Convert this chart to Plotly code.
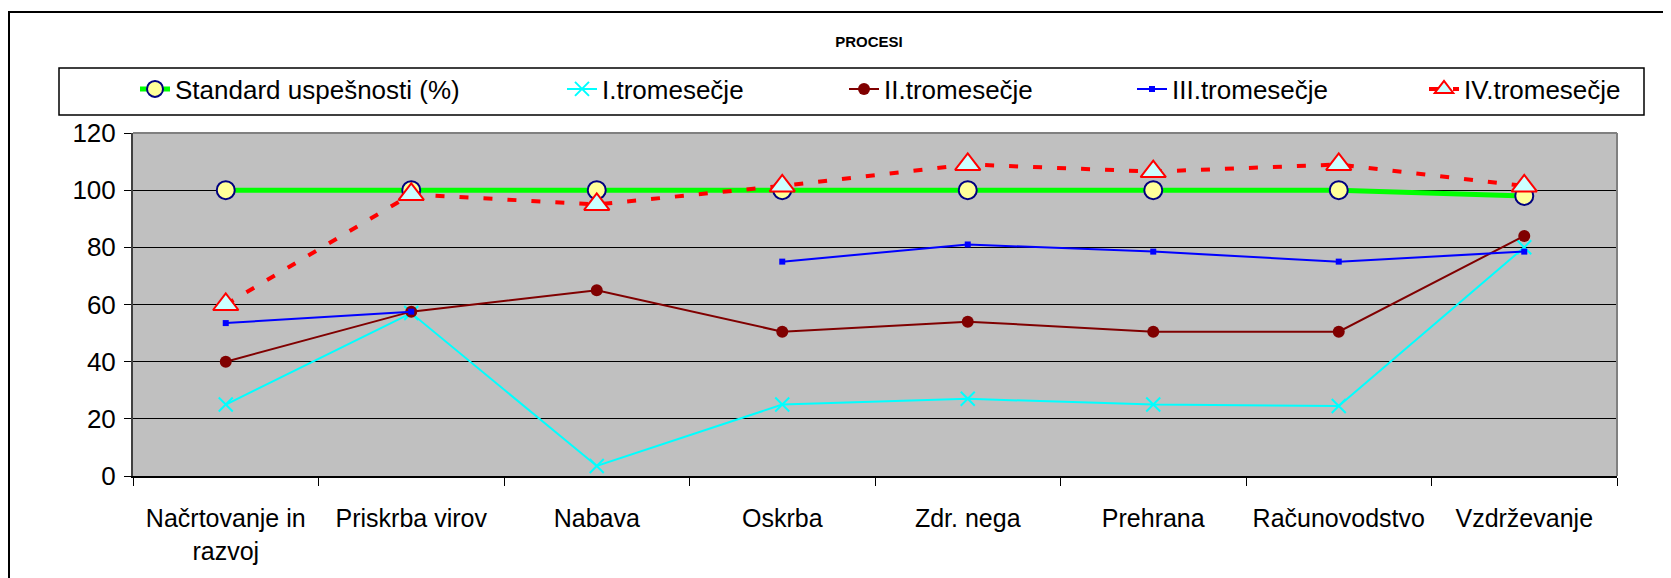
import plotly.graph_objects as go

# ---- data ----
categories = ["Načrtovanje in<br>razvoj", "Priskrba virov", "Nabava", "Oskrba",
              "Zdr. nega", "Prehrana", "Računovodstvo", "Vzdrževanje"]
standard = [100, 100, 100, 100, 100, 100, 100, 98]
q1 = [25, 57, 3.5, 25, 27, 25, 24.5, 80]
q2 = [40, 57.5, 65, 50.5, 54, 50.5, 50.5, 84]
q3 = [53.5, 57.5, None, 75, 81, 78.5, 75, 78.5]
q4 = [60, 98.5, 95, 101.5, 109, 106.5, 109, 101.5]
series_names = ["Standard uspešnosti (%)", "I.tromesečje", "II.tromesečje",
                "III.tromesečje", "IV.tromesečje"]
y_ticks = [0, 20, 40, 60, 80, 100, 120]

# page body margin offset (browser default 8px)
OFF = 8
W, H = 1671 - OFF, 578 - OFF
L, R, T, B = 133 - OFF, 1617 - OFF, 133 - OFF, 476 - OFF
FONT = "Liberation Sans, Arial, sans-serif"


def px_x(px):
    return (px - OFF - L) / (R - L)


def px_y(py):
    return (B - (py - OFF)) / (B - T)


fig = go.Figure()
fig.add_trace(go.Scatter(
    x=categories, y=standard, name=series_names[0], mode="lines+markers",
    line=dict(color="#00FF00", width=5),
    marker=dict(symbol="circle", size=18, color="#FFFF99",
                line=dict(color="#000080", width=2)),
    legend="legend"))
fig.add_trace(go.Scatter(
    x=categories, y=q1, name=series_names[1], mode="lines+markers",
    line=dict(color="#00FFFF", width=2),
    marker=dict(symbol="x-thin", size=14, color="#00FFFF",
                line=dict(color="#00FFFF", width=2)),
    legend="legend2"))
fig.add_trace(go.Scatter(
    x=categories, y=q2, name=series_names[2], mode="lines+markers",
    line=dict(color="#800000", width=2),
    marker=dict(symbol="circle", size=12, color="#800000"),
    legend="legend3"))
fig.add_trace(go.Scatter(
    x=categories, y=q3, name=series_names[3], mode="lines+markers",
    line=dict(color="#0000FF", width=2),
    marker=dict(symbol="square", size=6, color="#0000FF"),
    connectgaps=False, legend="legend4"))
fig.add_trace(go.Scatter(
    x=categories, y=q4, name=series_names[4], mode="lines+markers",
    line=dict(color="#FF0000", width=4, dash="9px,15px"),
    marker=dict(symbol="triangle-up", size=22, color="#CCFFFF",
                line=dict(color="#FF0000", width=2)),
    legend="legend5"))

text_starts = [175, 602, 884, 1172, 1464]
legend_y = px_y(89)
leg_common = dict(orientation="h", xanchor="left", yanchor="middle",
                  bgcolor="rgba(0,0,0,0)", borderwidth=0,
                  font=dict(family=FONT, size=26, color="#000000"))
legend_layout = {}
for i, ts in enumerate(text_starts):
    key = "legend" if i == 0 else f"legend{i + 1}"
    legend_layout[key] = dict(x=px_x(ts - 40), y=legend_y, **leg_common)

fig.update_layout(
    width=W, height=H,
    margin=dict(l=L, r=W - R, t=T, b=H - B, autoexpand=False),
    paper_bgcolor="#FFFFFF", plot_bgcolor="#C0C0C0",
    font=dict(family=FONT, size=26, color="#000000"),
    title=dict(text="<b>PROCESI</b>", x=(869 - OFF) / W, xanchor="center",
               y=1 - (42 - OFF) / H, yanchor="middle",
               font=dict(family=FONT, size=15, color="#000000")),
    showlegend=True,
    **legend_layout,
)

fig.update_xaxes(
    type="category", range=[-0.5, len(categories) - 0.5],
    showgrid=False, showline=True, linecolor="#000000", linewidth=2,
    ticks="outside", tickson="boundaries", ticklen=8, tickcolor="#000000",
    tickwidth=1, tickfont=dict(family=FONT, size=25, color="#000000"),
    ticklabelstandoff=19, zeroline=False)
fig.update_yaxes(
    range=[0, 120], tickvals=y_ticks, showgrid=True, gridcolor="#000000",
    gridwidth=1, showline=True, linecolor="#404040", linewidth=2,
    ticks="outside", ticklen=7, tickcolor="#000000", tickwidth=1,
    tickfont=dict(family=FONT, size=26, color="#000000"),
    ticklabelstandoff=3, zeroline=False)

# plot-area top/right border
fig.add_shape(type="line", xref="paper", yref="paper", x0=0, x1=1, y0=1, y1=1,
              line=dict(color="#808080", width=2))
fig.add_shape(type="line", xref="paper", yref="paper", x0=1, x1=1, y0=0, y1=1,
              line=dict(color="#808080", width=2))
# legend frame
fig.add_shape(type="rect", xref="paper", yref="paper",
              x0=px_x(59), x1=px_x(1644), y0=px_y(115), y1=px_y(68),
              line=dict(color="#000000", width=1.5), fillcolor="rgba(0,0,0,0)")
# outer chart frame
fig.add_shape(type="rect", xref="paper", yref="paper",
              x0=px_x(9), x1=px_x(1700), y0=px_y(620), y1=px_y(12),
              line=dict(color="#000000", width=2), fillcolor="rgba(0,0,0,0)")

fig.write_html("out.html")
